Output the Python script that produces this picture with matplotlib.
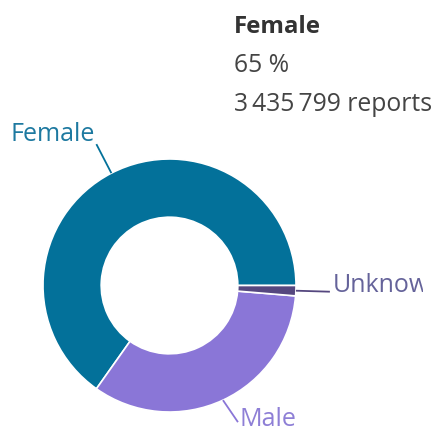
import matplotlib
matplotlib.use("Agg")
import matplotlib.pyplot as plt
import numpy as np

categories = ["Female", "Male", "Unknown"]
reports = [3435799, 1765000, 69000]
colors = ["#03719a", "#8a76d7", "#55477f"]
label_colors = ["#1d79a0", "#8e7fd6", "#65639a"]

plt.rcParams['font.family'] = ['Open Sans', 'DejaVu Sans']

W, H = 443, 434
fig = plt.figure(figsize=(W / 100, H / 100), dpi=100)
clip_w = 423
ax = fig.add_axes([0, 0, clip_w / W, 1])
ax.set_xlim(0, clip_w)
ax.set_ylim(0, H)
ax.axis('off')

cx, cy, R = 169.5, H - 285.5, 126.5
wedges, _ = ax.pie(reports, colors=colors, startangle=0, counterclock=True,
                   center=(cx, cy), radius=R,
                   wedgeprops=dict(width=R * 0.46, edgecolor='white', linewidth=1.2))
ax.set_xlim(0, clip_w)
ax.set_ylim(0, H)

# connectors & labels: (dx, dy, ha, text dx, text dy)
offsets = {"Female": (-15, 29, 'right', -1, 3),
           "Male": (15, -22, 'left', 2, -4),
           "Unknown": (34, -1, 'left', 3, 0)}
for w, name, lc, wc in zip(wedges, categories, label_colors, colors):
    mid = np.deg2rad((w.theta1 + w.theta2) / 2)
    x0, y0 = cx + R * np.cos(mid), cy + R * np.sin(mid)
    dx, dy, ha, tdx, tdy = offsets[name]
    x1, y1 = x0 + dx, y0 + dy
    ax.plot([x0, x1], [y0, y1], color=wc, lw=1.3, solid_capstyle='butt')
    ax.text(x1 + tdx, y1 + tdy, name, ha=ha, va='baseline', fontsize=18, color=lc, clip_on=True)

# tooltip
tip_x = 234
fig.text(tip_x, H - 33, "Female", transform=None, fontsize=17.3, fontweight='bold', color='#333333', va='baseline')
fig.text(tip_x, H - 72, "65 %", transform=None, fontsize=17.8, color='#444444', va='baseline')
fig.text(tip_x, H - 111, "3\u2009435\u2009799 reports", transform=None, fontsize=17.8, color='#444444', va='baseline')

fig.savefig("out.png", dpi=100)
